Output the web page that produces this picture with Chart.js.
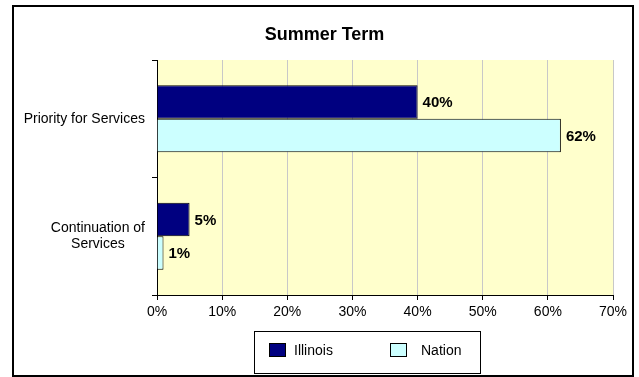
<!DOCTYPE html>
<html lang="en">
<head>
  <meta charset="UTF-8">
  <title>Summer Term</title>
  <script src="https://cdn.jsdelivr.net/npm/chart.js"></script>
  <style>
    body { margin: 0; background: #fff; }
    canvas { display: block; }
  </style>
</head>
<body>
  <canvas id="summerChart" width="639" height="377"></canvas>
  <script>
    // chart data
    const categories = [['Priority for Services'], ['Continuation of', 'Services']];
    const illinoisValues = [40, 5];
    const nationValues = [62, 1];
    const xTicks = [0, 10, 20, 30, 40, 50, 60, 70];

    const FONT = '"Liberation Sans", Arial, sans-serif';

    // white page, yellow plot area and outer frame
    const frame = {
      id: 'frame',
      beforeDraw(chart) {
        const { ctx, chartArea: a } = chart;
        ctx.save();
        ctx.fillStyle = '#fff';
        ctx.fillRect(0, 0, chart.width, chart.height);
        ctx.fillStyle = '#FFFFCC';
        ctx.fillRect(a.left, a.top, a.right - a.left, a.bottom - a.top);
        ctx.restore();
      },
      afterDraw(chart) {
        const ctx = chart.ctx;
        ctx.save();
        ctx.strokeStyle = '#000';
        ctx.lineWidth = 2;
        ctx.strokeRect(13, 6, 620, 370);
        ctx.restore();
      }
    };

    // category labels, lines centred and block right-aligned like Excel
    const catLabels = {
      id: 'catLabels',
      afterDraw(chart) {
        const { ctx } = chart;
        const y = chart.scales.y;
        ctx.save();
        ctx.font = '14px ' + FONT;
        ctx.fillStyle = '#000';
        ctx.textAlign = 'center';
        ctx.textBaseline = 'middle';
        const right = y.right - 12;
        categories.forEach((lines, i) => {
          const w = Math.max(...lines.map(l => ctx.measureText(l).width));
          const cy = y.getPixelForValue(i);
          const lh = 16;
          lines.forEach((l, j) => {
            ctx.fillText(l, right - w / 2, cy + (j - (lines.length - 1) / 2) * lh);
          });
        });
        ctx.restore();
      }
    };

    // value labels at bar ends
    const valueLabels = {
      id: 'valueLabels',
      afterDatasetsDraw(chart) {
        const { ctx } = chart;
        ctx.save();
        ctx.font = 'bold 15px ' + FONT;
        ctx.fillStyle = '#000';
        ctx.textAlign = 'left';
        ctx.textBaseline = 'middle';
        chart.data.datasets.forEach((ds, di) => {
          chart.getDatasetMeta(di).data.forEach((bar, i) => {
            ctx.fillText(ds.data[i] + '%', bar.x + 5, bar.y + 1);
          });
        });
        ctx.restore();
      }
    };

    // boxed legend below the axis
    const boxLegend = {
      id: 'boxLegend',
      afterDraw(chart) {
        const { ctx } = chart;
        const left = 254, top = 331, w = 226, h = 42;
        const items = [{ x: 269, tx: 294 }, { x: 390, tx: 421 }];
        ctx.save();
        ctx.strokeStyle = '#000';
        ctx.lineWidth = 1;
        ctx.strokeRect(left + 0.5, top + 0.5, w, h);
        ctx.font = '14px ' + FONT;
        ctx.textBaseline = 'middle';
        chart.data.datasets.forEach((ds, i) => {
          const it = items[i];
          ctx.fillStyle = ds.backgroundColor;
          ctx.fillRect(it.x, 343, 17, 14);
          ctx.strokeRect(it.x + 0.5, 343.5, 16, 13);
          ctx.fillStyle = '#000';
          ctx.fillText(ds.label, it.tx, 351);
        });
        ctx.restore();
      }
    };

    new Chart(document.getElementById('summerChart'), {
      type: 'bar',
      data: {
        labels: categories,
        datasets: [
          {
            label: 'Illinois',
            data: illinoisValues,
            backgroundColor: '#000080',
            borderColor: '#000',
            borderWidth: 1,
            barPercentage: 1,
            categoryPercentage: 0.57
          },
          {
            label: 'Nation',
            data: nationValues,
            backgroundColor: '#CCFFFF',
            borderColor: '#000',
            borderWidth: 1,
            barPercentage: 1,
            categoryPercentage: 0.57
          }
        ]
      },
      options: {
        indexAxis: 'y',
        responsive: false,
        animation: false,
        layout: { padding: { left: 36, right: 26, top: 0, bottom: 0 } },
        plugins: {
          legend: { display: false },
          tooltip: { enabled: false },
          title: {
            display: true,
            text: 'Summer Term',
            color: '#000',
            font: { family: FONT, size: 18, weight: 'bold' },
            padding: { top: 24, bottom: 14.4 }
          }
        },
        scales: {
          x: {
            min: 0,
            max: 70,
            afterBuildTicks(scale) {
              scale.ticks = xTicks.map(v => ({ value: v }));
            },
            afterFit(scale) { scale.height = 82; },
            ticks: {
              color: '#000',
              padding: 4,
              maxRotation: 0,
              font: { family: FONT, size: 14 },
              callback: v => v + '%'
            },
            grid: { color: '#C8C8C8', tickColor: '#000', tickLength: 5 },
            border: { color: '#000', width: 1 }
          },
          y: {
            afterFit(scale) { scale.width = 121; },
            ticks: { display: false },
            grid: { drawOnChartArea: false, offset: true, tickColor: '#000', tickLength: 5 },
            border: { color: '#000', width: 1 }
          }
        }
      },
      plugins: [frame, valueLabels, catLabels, boxLegend]
    });
  </script>
</body>
</html>
